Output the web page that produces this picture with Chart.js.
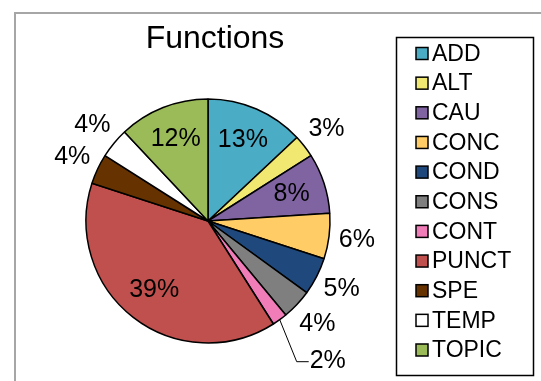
<!DOCTYPE html>
<html>
<head>
<meta charset="utf-8">
<script src="https://cdn.jsdelivr.net/npm/chart.js@4"></script>
<style>
  html, body { margin: 0; padding: 0; background: #fff; }
  #wrap { width: 541px; height: 381px; }
</style>
</head>
<body>
<div id="wrap"><canvas id="pie"></canvas></div>
<script>
// data
const categories = ['ADD', 'ALT', 'CAU', 'CONC', 'COND', 'CONS', 'CONT', 'PUNCT', 'SPE', 'TEMP', 'TOPIC'];
const shares = [13, 3, 8, 6, 5, 4, 2, 39, 4, 4, 12];
const colors = ['#4BACC6', '#F0E870', '#8064A2', '#FFCC66', '#1F497D', '#7F7F7F',
                '#F07CB8', '#C0504D', '#663300', '#FFFFFF', '#9BBB59'];
// where each percentage label sits: inside the slice, outside, or on a leader line
const labelPlace = ['in', 'out', 'in', 'out', 'out', 'out', 'leader', 'in', 'out', 'out', 'in'];

const FONT = 'Arial, "Liberation Sans", sans-serif';

// frame, title, legend box and percentage labels
const decorations = {
  id: 'decorations',
  beforeDraw(chart) {
    const ctx = chart.ctx;
    ctx.save();
    ctx.strokeStyle = '#a6a6a6';
    ctx.lineWidth = 2;
    ctx.beginPath();
    ctx.moveTo(15, 381);
    ctx.lineTo(15, 13);
    ctx.lineTo(541, 13);
    ctx.stroke();
    ctx.restore();
  },
  afterDraw(chart) {
    const ctx = chart.ctx;
    ctx.save();

    // title
    ctx.fillStyle = '#000';
    ctx.font = '32px ' + FONT;
    ctx.textAlign = 'center';
    ctx.textBaseline = 'middle';
    ctx.fillText('Functions', 215, 39);

    // legend
    ctx.strokeStyle = '#000';
    ctx.lineWidth = 1.5;
    ctx.strokeRect(396.5, 37.5, 137, 338);
    ctx.font = '23px ' + FONT;
    ctx.textAlign = 'left';
    categories.forEach((name, i) => {
      const y = 53.5 + i * 29.65;
      ctx.fillStyle = colors[i];
      ctx.fillRect(416, y - 6, 12, 12);
      ctx.lineWidth = 1.5;
      ctx.strokeRect(416, y - 6, 12, 12);
      ctx.fillStyle = '#000';
      ctx.fillText(name, 432, y + 1);
    });

    // percentage labels
    const arcs = chart.getDatasetMeta(0).data;
    ctx.font = '25px ' + FONT;
    arcs.forEach((arc, i) => {
      const { x, y, startAngle, endAngle, outerRadius } = arc.getProps(
        ['x', 'y', 'startAngle', 'endAngle', 'outerRadius'], true);
      const mid = (startAngle + endAngle) / 2;
      const text = shares[i] + '%';
      ctx.fillStyle = '#000';
      if (labelPlace[i] === 'in') {
        const r = outerRadius * 0.72;
        ctx.textAlign = 'center';
        ctx.fillText(text, x + Math.cos(mid) * r, y + Math.sin(mid) * r);
      } else if (labelPlace[i] === 'out') {
        const r = outerRadius + 28;
        ctx.textAlign = 'center';
        ctx.fillText(text, x + Math.cos(mid) * r, y + Math.sin(mid) * r);
      } else {
        const px = x + Math.cos(mid) * outerRadius;
        const py = y + Math.sin(mid) * outerRadius;
        ctx.strokeStyle = '#000';
        ctx.lineWidth = 1;
        ctx.beginPath();
        ctx.moveTo(px, py);
        ctx.lineTo(px + 17, py + 42);
        ctx.lineTo(px + 29, py + 42);
        ctx.stroke();
        ctx.textAlign = 'left';
        ctx.fillText(text, px + 30, py + 41);
      }
    });
    ctx.restore();
  }
};

new Chart(document.getElementById('pie'), {
  type: 'pie',
  data: {
    labels: categories,
    datasets: [{
      data: shares,
      backgroundColor: colors,
      borderColor: '#000',
      borderWidth: 1.5
    }]
  },
  options: {
    responsive: true,
    maintainAspectRatio: false,
    animation: false,
    radius: 122,
    layout: { padding: { left: 86, right: 211, top: 99, bottom: 38 } },
    plugins: {
      legend: { display: false },
      title: { display: false },
      tooltip: { enabled: false }
    }
  },
  plugins: [decorations]
});
</script>
</body>
</html>
